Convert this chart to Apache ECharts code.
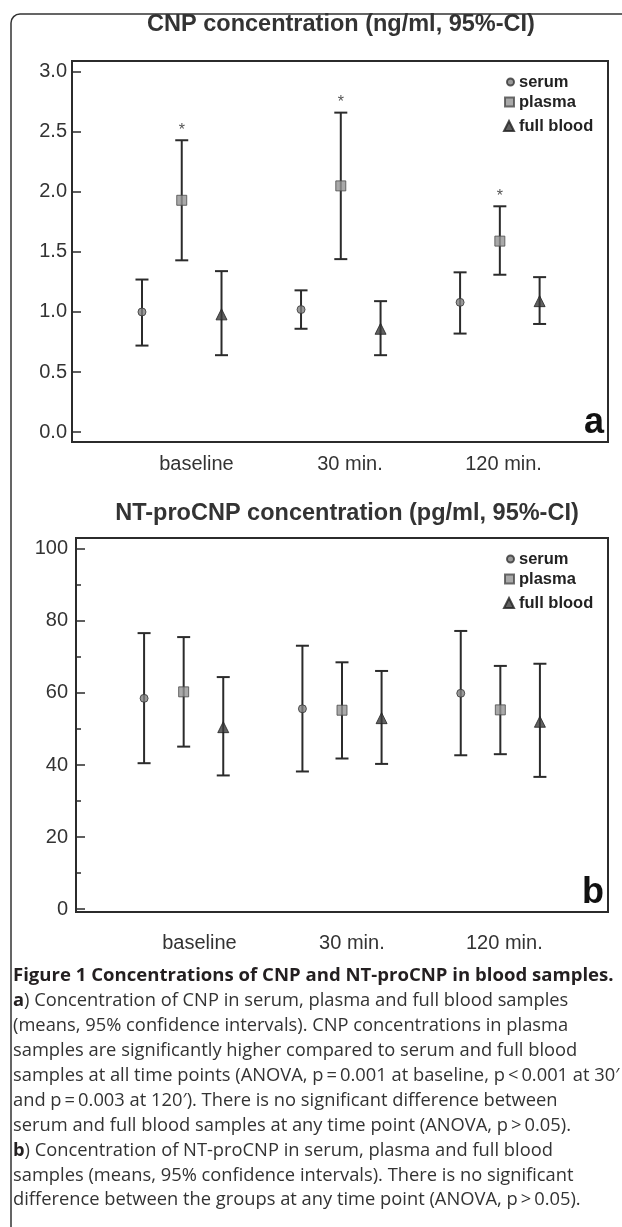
<!DOCTYPE html>
<html><head><meta charset="utf-8">
<script src="https://cdn.jsdelivr.net/npm/echarts@6/dist/echarts.min.js"></script>
<style>html,body{margin:0;padding:0;background:#fff}#c{width:622px;height:1227px}</style>
</head><body><div id="c"></div>
<script>
// ---------- data ----------
const categories = ['baseline', '30 min.', '120 min.'];
const groupNames = ['serum', 'plasma', 'full blood'];

// panel a: CNP (ng/ml), means and 95%-CI
const cnpSerumMean  = [1.00, 1.02, 1.08];
const cnpSerumLow   = [0.72, 0.86, 0.82];
const cnpSerumHigh  = [1.27, 1.18, 1.33];
const cnpPlasmaMean = [1.93, 2.05, 1.59];
const cnpPlasmaLow  = [1.43, 1.44, 1.31];
const cnpPlasmaHigh = [2.43, 2.66, 1.88];
const cnpFullMean   = [0.98, 0.86, 1.09];
const cnpFullLow    = [0.64, 0.64, 0.90];
const cnpFullHigh   = [1.34, 1.09, 1.29];
const cnpPlasmaSig  = [1, 1, 1];
const cnpTicks = [0, 0.5, 1.0, 1.5, 2.0, 2.5, 3.0];

// panel b: NT-proCNP (pg/ml), means and 95%-CI
const ntSerumMean  = [58.5, 55.6, 59.9];
const ntSerumLow   = [40.5, 38.2, 42.7];
const ntSerumHigh  = [76.6, 73.1, 77.2];
const ntPlasmaMean = [60.3, 55.2, 55.3];
const ntPlasmaLow  = [45.1, 41.8, 43.0];
const ntPlasmaHigh = [75.5, 68.5, 67.5];
const ntFullMean   = [50.5, 53.0, 52.0];
const ntFullLow    = [37.1, 40.3, 36.7];
const ntFullHigh   = [64.4, 66.1, 68.1];
const ntSig        = [0, 0, 0];
const ntTicks      = [0, 20, 40, 60, 80, 100];
const ntMinorTicks = [10, 30, 50, 70, 90];

const captionHeading = 'Figure 1 Concentrations of CNP and NT-proCNP in blood samples.';
const captionLines = [
  '{b|a}) Concentration of CNP in serum, plasma and full blood samples',
  '(means, 95% confidence intervals). CNP concentrations in plasma',
  'samples are significantly higher compared to serum and full blood',
  'samples at all time points (ANOVA, p\u2009=\u20090.001 at baseline, p\u2009<\u20090.001 at 30\u2032',
  'and p\u2009=\u20090.003 at 120\u2032). There is no significant difference between',
  'serum and full blood samples at any time point (ANOVA, p\u2009>\u20090.05).',
  '{b|b}) Concentration of NT-proCNP in serum, plasma and full blood',
  'samples (means, 95% confidence intervals). There is no significant',
  'difference between the groups at any time point (ANOVA, p\u2009>\u20090.05).'
];

// ---------- styling ----------
const ink = '#2b2b2b';
const sans = 'Liberation Sans, Arial, sans-serif';
const groupOffsets = [-0.25, 0, 0.25];
const symbols = ['circle', 'rect', 'triangle'];
const symbolSizes = [8, 10, 11];
const symbolStyles = [
  {color: '#808080', borderColor: '#333', borderWidth: 1},
  {color: '#949494', borderColor: '#4a4a4a', borderWidth: 1},
  {color: '#3a3a3a', borderColor: '#222', borderWidth: 1}
];

function renderCI(params, api) {
  const x = api.value(0), lo = api.value(1), hi = api.value(2), s = api.value(3);
  const top = api.coord([x, hi]), bot = api.coord([x, lo]);
  const half = 6.5;
  const style = {stroke: ink, lineWidth: 2};
  const children = [
    {type: 'line', shape: {x1: top[0], y1: top[1], x2: bot[0], y2: bot[1]}, style},
    {type: 'line', shape: {x1: top[0] - half, y1: top[1], x2: top[0] + half, y2: top[1]}, style},
    {type: 'line', shape: {x1: bot[0] - half, y1: bot[1], x2: bot[0] + half, y2: bot[1]}, style}
  ];
  if (s) children.push({type: 'text', style: {text: '*', x: top[0], y: top[1] - 2, align: 'center', verticalAlign: 'bottom', fontSize: 16, fontFamily: sans, fill: '#555'}});
  return {type: 'group', children};
}

function panelSeries(axisIdx, means, lows, highs, sigs) {
  const out = [];
  for (let g = 0; g < 3; g++) {
    out.push({
      type: 'custom', name: groupNames[g] + ' CI', xAxisIndex: axisIdx * 2, yAxisIndex: axisIdx * 2,
      renderItem: renderCI, encode: {x: 0, y: [1, 2]}, z: 2, silent: true,
      data: categories.map((c, i) => [i + groupOffsets[g], lows[g][i], highs[g][i], sigs[g][i]])
    });
  }
  for (let g = 0; g < 3; g++) {
    out.push({
      type: 'scatter', name: groupNames[g], xAxisIndex: axisIdx * 2, yAxisIndex: axisIdx * 2,
      symbol: symbols[g], symbolSize: symbolSizes[g], itemStyle: symbolStyles[g], z: 5,
      data: categories.map((c, i) => [i + groupOffsets[g], means[g][i]])
    });
  }
  return out;
}

const grids = [
  {left: 72, top: 61, width: 536, height: 381, show: true, borderColor: ink, borderWidth: 2, backgroundColor: '#fff'},
  {left: 76, top: 538, width: 532, height: 374, show: true, borderColor: ink, borderWidth: 2, backgroundColor: '#fff'}
];

function dataXAxis(gi, min, max) {
  return {type: 'value', gridIndex: gi, min, max, axisLine: {show: false, onZero: false}, axisTick: {show: false}, axisLabel: {show: false}, splitLine: {show: false}};
}
function labelXAxis(gi, min, max, margin) {
  return {type: 'value', gridIndex: gi, min, max, position: 'bottom', axisLine: {show: false, onZero: false}, axisTick: {show: false}, splitLine: {show: false},
    axisLabel: {customValues: [0, 1, 2], formatter: v => categories[Math.round(v)], margin, fontSize: 20, fontFamily: sans, color: '#333'}};
}

const legends = [];
[61, 538].forEach((top) => {
  const rows = [[21, 7], [41, 9], [65, 10]];
  rows.forEach((r, g) => {
    legends.push({data: [groupNames[g]], left: 518 - 5 - r[1], top: top + r[0] - 9, padding: 0, itemGap: 0,
      itemWidth: r[1], itemHeight: r[1], selectedMode: false,
      textStyle: {fontSize: 16.5, fontWeight: 'bold', fontFamily: sans, color: '#222', lineHeight: 18}});
  });
});

// caption font fitting
const mctx = document.createElement('canvas').getContext('2d');
function fit(text, weight, family, target) {
  mctx.font = weight + ' 100px ' + family;
  return 100 * target / mctx.measureText(text).width;
}
const capFamily = 'Open Sans';
const headSize = fit(captionHeading, 'bold', '"Open Sans"', 601);
const bodySize = fit(captionLines[3], 'normal', '"Open Sans"', 607);

const graphics = [
  {type: 'rect', shape: {x: 11, y: 14, width: 700, height: 1300, r: [9, 0, 0, 0]}, style: {fill: 'none', stroke: '#333', lineWidth: 1.5}, z: 0},
  {type: 'text', style: {text: 'a', x: 604, y: 423, align: 'right', verticalAlign: 'middle', fontSize: 36, fontWeight: 'bold', fontFamily: sans, fill: '#111'}, z: 10},
  {type: 'text', style: {text: 'b', x: 604, y: 893, align: 'right', verticalAlign: 'middle', fontSize: 36, fontWeight: 'bold', fontFamily: sans, fill: '#111'}, z: 10},
  {type: 'text', style: {text: captionHeading, x: 13, y: 976, verticalAlign: 'middle', fontSize: headSize, fontWeight: 'bold', fontFamily: capFamily, fill: '#231f20'}}
];
captionLines.forEach((line, i) => {
  graphics.push({type: 'text', style: {text: line, x: 13, y: 1001 + i * 24.9, verticalAlign: 'middle', fontSize: bodySize, fontFamily: capFamily, fill: '#333',
    rich: {b: {fontWeight: 'bold', fontSize: bodySize, fontFamily: capFamily, fill: '#231f20'}}}});
});

const chart = echarts.init(document.getElementById('c'), null, {renderer: 'canvas'});
chart.setOption({
  animation: false,
  backgroundColor: '#fff',
  title: [
    {text: 'CNP concentration (ng/ml, 95%-CI)', left: 341, top: 25, textAlign: 'center', textVerticalAlign: 'middle', padding: 0,
      textStyle: {fontSize: 23.5, fontWeight: 'bold', fontFamily: sans, color: '#333'}},
    {text: 'NT-proCNP concentration (pg/ml, 95%-CI)', left: 347, top: 514, textAlign: 'center', textVerticalAlign: 'middle', padding: 0,
      textStyle: {fontSize: 23.5, fontWeight: 'bold', fontFamily: sans, color: '#333'}}
  ],
  legend: legends,
  grid: grids,
  xAxis: [dataXAxis(0, -0.69, 2.68), labelXAxis(0, -0.81, 2.68, 12), dataXAxis(1, -0.68, 2.68), labelXAxis(1, -0.81, 2.68, 21)],
  yAxis: [
    {type: 'value', gridIndex: 0, position: 'left', min: -0.083, max: 3.09, axisLine: {show: false, onZero: false}, splitLine: {show: false},
      axisTick: {inside: true, length: 9, customValues: cnpTicks, lineStyle: {color: ink, width: 1.5}},
      axisLabel: {customValues: cnpTicks, formatter: v => v.toFixed(1), margin: 5, fontSize: 20, fontFamily: sans, color: '#333'}},
    {type: 'value', gridIndex: 0, position: 'left', min: -0.083, max: 3.09, show: false, axisLine: {onZero: false}},
    {type: 'value', gridIndex: 1, position: 'left', min: -0.8, max: 103, axisLine: {show: false, onZero: false}, splitLine: {show: false},
      axisTick: {inside: true, length: 9, customValues: ntTicks, lineStyle: {color: ink, width: 1.5}},
      axisLabel: {customValues: ntTicks, formatter: v => String(v), margin: 8, fontSize: 20, fontFamily: sans, color: '#333'}},
    {type: 'value', gridIndex: 1, position: 'left', offset: 0, min: -0.8, max: 103, axisLine: {show: false, onZero: false}, splitLine: {show: false}, axisLabel: {show: false},
      axisTick: {inside: true, length: 5, customValues: ntMinorTicks, lineStyle: {color: ink, width: 1.5}}}
  ],
  series: [
    ...panelSeries(0, [cnpSerumMean, cnpPlasmaMean, cnpFullMean], [cnpSerumLow, cnpPlasmaLow, cnpFullLow], [cnpSerumHigh, cnpPlasmaHigh, cnpFullHigh], [[0,0,0], cnpPlasmaSig, [0,0,0]]),
    ...panelSeries(1, [ntSerumMean, ntPlasmaMean, ntFullMean], [ntSerumLow, ntPlasmaLow, ntFullLow], [ntSerumHigh, ntPlasmaHigh, ntFullHigh], [ntSig, ntSig, ntSig])
  ],
  graphic: graphics
});
</script></body></html>
